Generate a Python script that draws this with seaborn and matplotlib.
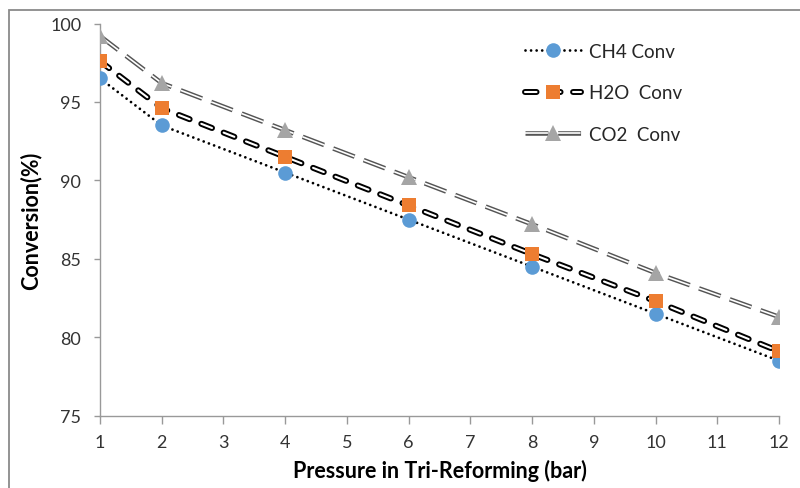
import matplotlib
matplotlib.use("Agg")
import matplotlib.pyplot as plt
import matplotlib.patheffects as pe
from matplotlib.lines import Line2D
from matplotlib.patches import Rectangle
from matplotlib.legend_handler import HandlerTuple
import seaborn as sns
import pandas as pd

pressure = [1, 2, 4, 6, 8, 10, 12]
ch4_conv = [96.5, 93.5, 90.5, 87.5, 84.5, 81.5, 78.5]
h2o_conv = [97.6, 94.6, 91.5, 88.4, 85.3, 82.3, 79.1]
co2_conv = [99.2, 96.2, 93.2, 90.2, 87.2, 84.1, 81.3]
labels = ["CH4 Conv", "H2O  Conv", "CO2  Conv"]
x_ticks = list(range(1, 13))
y_ticks = [75, 80, 85, 90, 95, 100]

sns.set_theme(style="white")
plt.rcParams["font.family"] = ["Lato", "DejaVu Sans"]
plt.rcParams["lines.scale_dashes"] = False

fig = plt.figure(figsize=(8, 4.89), dpi=100)
ax = fig.add_axes([100 / 800, 1 - 416.7 / 489, 679 / 800, (416.7 - 24.5) / 489])

df = pd.DataFrame({"x": pressure, "CH4": ch4_conv, "H2O": h2o_conv, "CO2": co2_conv})

styles = {
    "CH4": dict(color="black", lw=2.0, dashes=(0.01, 4.0), capstyle="round",
                effects=None, marker="o", mcolor="#5B9BD5", ms=10.5),
    "H2O": dict(color="white", lw=1.5, dashes=(8.3, 9.0), capstyle="round",
                effects=[pe.Stroke(linewidth=4.3, foreground="black"), pe.Normal()],
                marker="s", mcolor="#ED7D31", ms=9.5),
    "CO2": dict(color="white", lw=1.2, dashes=(16.5, 7.0), capstyle="butt",
                effects=[pe.Stroke(linewidth=3.3, foreground="#555555"), pe.Normal()],
                marker="^", mcolor="#A5A5A5", ms=11.5),
}

handles = []
for key, lab in zip(["CH4", "H2O", "CO2"], labels):
    st = styles[key]
    sns.lineplot(data=df, x="x", y=key, ax=ax, color=st["color"], lw=st["lw"],
                 legend=False, zorder=2)
    ln = ax.lines[-1]
    ln.set_dashes(st["dashes"])
    ln.set_dash_capstyle(st["capstyle"])
    if st["effects"]:
        ln.set_path_effects(st["effects"])
    sns.lineplot(data=df, x="x", y=key, ax=ax, color=st["mcolor"], linestyle="",
                 marker=st["marker"], markersize=st["ms"], markeredgewidth=0,
                 legend=False, zorder=3)
    lp = Line2D([], [], color=st["color"], lw=st["lw"])
    lp.set_dashes(st["dashes"])
    lp.set_dash_capstyle(st["capstyle"])
    if st["effects"]:
        lp.set_path_effects(st["effects"])
    mp = Line2D([], [], color=st["mcolor"], linestyle="", marker=st["marker"],
                markersize=st["ms"], markeredgewidth=0)
    handles.append((lp, mp))

ax.set_xlim(1, 12)
ax.set_ylim(75, 100)
ax.set_xticks(x_ticks)
ax.set_yticks(y_ticks)
ax.set_xlabel("Pressure in Tri-Reforming (bar)", fontsize=15.5, fontweight="bold",
              color="black", labelpad=6)
ax.set_ylabel("Conversion(%)", fontsize=15.5, fontweight="bold", color="black",
              labelpad=6)
ax.tick_params(axis="both", labelsize=13, colors="#333333", direction="out",
               length=4.5, width=1, color="#999999", pad=9)
ax.tick_params(axis="x", length=5.5, pad=8)
ax.tick_params(axis="x", bottom=True)
ax.tick_params(axis="y", left=True)
for s in ["top", "right"]:
    ax.spines[s].set_visible(False)
for s in ["left", "bottom"]:
    ax.spines[s].set_color("#999999")
    ax.spines[s].set_linewidth(1)
ax.grid(False)

leg = fig.legend(handles, labels, handler_map={tuple: HandlerTuple(ndivide=1)},
                 loc="upper left", bbox_to_anchor=(525 / 800, 1 - 44 / 489),
                 frameon=False, fontsize=13.5, handlelength=3.0, handletextpad=0.4,
                 labelspacing=1.3, borderpad=0, borderaxespad=0)

fig.add_artist(Rectangle((9 / 800, -0.1), 1.2, 1 - 11 / 489 + 0.1,
                         transform=fig.transFigure, fill=False,
                         edgecolor="#8a8a8a", lw=1.3))

fig.savefig("out.png", dpi=100)
